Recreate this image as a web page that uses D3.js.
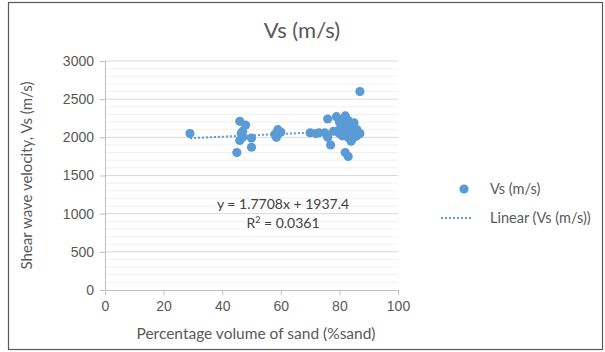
<!DOCTYPE html>
<html>
<head>
<meta charset="utf-8">
<script src="https://cdn.jsdelivr.net/npm/d3@7"></script>
<style>
  body { margin: 0; background: #fff; }
  svg { display: block; font-family: Lato, "Open Sans", sans-serif; }
</style>
</head>
<body>
<svg id="chart" width="605" height="352"></svg>
<script>
// sand percentage (x) and shear wave velocity (y)
const sand = [29, 45, 46, 46, 46.5, 47, 48, 47, 50, 50,
  58, 58.5, 59, 60, 59.5, 70, 72, 73, 75, 76, 76, 77, 78, 79,
  80, 80, 81, 82, 82, 82, 83, 83, 83, 84, 84, 85, 85, 86, 87, 87,
  81, 84, 82, 80, 83, 85, 86];
const vs = [2050, 1800, 2210, 1960, 2050, 2080, 2160, 2000, 1990, 1870,
  2040, 2000, 2100, 2070, 2060, 2060, 2050, 2060, 2060, 2240, 2000, 1900, 2080, 2270,
  2200, 2050, 2150, 2280, 2100, 1800, 1750, 2220, 2000, 2100, 1950, 2190, 2050, 2100, 2600, 2050,
  2020, 2000, 2180, 2100, 2150, 2000, 2020];
const xTicks = [0, 20, 40, 60, 80, 100];
const yTicks = [0, 500, 1000, 1500, 2000, 2500, 3000];
const slope = 1.7708, intercept = 1937.4;

const svg = d3.select('#chart');
const blue = '#5b9bd5';

// outer frame
svg.append('rect')
  .attr('x', 8.5).attr('y', 2.5).attr('width', 594).attr('height', 347)
  .attr('fill', '#fff').attr('stroke', '#595959').attr('stroke-width', 1.2);

const x = d3.scaleLinear().domain([0, 100]).range([105, 398]);
const y = d3.scaleLinear().domain([0, 3000]).range([290, 61]);

// minor grid every 100
svg.append('g')
  .selectAll('line')
  .data(d3.range(100, 3001, 100).filter(v => v % 500 !== 0))
  .join('line')
    .attr('x1', x(0)).attr('x2', x(100))
    .attr('y1', d => y(d)).attr('y2', d => y(d))
    .attr('stroke', '#f0f0f0').attr('stroke-width', 1);

// major grid
svg.append('g')
  .selectAll('line')
  .data(yTicks.slice(1))
  .join('line')
    .attr('x1', x(0)).attr('x2', x(100))
    .attr('y1', d => y(d)).attr('y2', d => y(d))
    .attr('stroke', '#d9d9d9').attr('stroke-width', 1);

const xAxis = g => g
  .attr('transform', `translate(0,${y(0)})`)
  .call(d3.axisBottom(x).tickValues(xTicks).tickFormat(d3.format('d')).tickSize(5).tickPadding(6))
  .call(g => g.selectAll('path, line').attr('stroke', '#bfbfbf'))
  .call(g => g.selectAll('text').attr('fill', '#595959').attr('font-size', 14));

const yAxis = g => g
  .attr('transform', `translate(${x(0)},0)`)
  .call(d3.axisLeft(y).tickValues(yTicks).tickFormat(d3.format('d')).tickSize(5).tickPadding(6))
  .call(g => g.selectAll('path, line').attr('stroke', '#bfbfbf'))
  .call(g => g.selectAll('text').attr('fill', '#595959').attr('font-size', 14));

svg.append('g').call(xAxis);
svg.append('g').call(yAxis);

// points
svg.append('g')
  .selectAll('circle')
  .data(sand.map((s, i) => [s, vs[i]]))
  .join('circle')
    .attr('cx', d => x(d[0]))
    .attr('cy', d => y(d[1]))
    .attr('r', 4.6)
    .attr('fill', blue);

// linear trendline
const xMin = d3.min(sand), xMax = d3.max(sand);
svg.append('line')
  .attr('x1', x(xMin)).attr('y1', y(slope * xMin + intercept))
  .attr('x2', x(xMax)).attr('y2', y(slope * xMax + intercept))
  .attr('stroke', blue).attr('stroke-width', 2).attr('stroke-dasharray', '2,2');

// equation
svg.append('text').attr('x', 283).attr('y', 209).attr('text-anchor', 'middle')
  .attr('font-size', 14).attr('fill', '#404040').text('y = 1.7708x + 1937.4');
svg.append('text').attr('x', 283).attr('y', 228).attr('text-anchor', 'middle')
  .attr('font-size', 14).attr('fill', '#404040')
  .html('R<tspan dy="-5" font-size="9">2</tspan><tspan dy="5"> = 0.0361</tspan>');

// title and axis labels
svg.append('text').attr('x', 302).attr('y', 38).attr('text-anchor', 'middle')
  .attr('font-size', 22).attr('fill', '#595959').text('Vs (m/s)');
svg.append('text').attr('x', 256).attr('y', 339).attr('text-anchor', 'middle')
  .attr('font-size', 15.5).attr('fill', '#595959').text('Percentage volume of sand (%sand)');
svg.append('text')
  .attr('transform', `translate(32,${(y(0) + y(3000)) / 2}) rotate(-90)`)
  .attr('text-anchor', 'middle')
  .attr('font-size', 15).attr('fill', '#595959').text('Shear  wave velocity, Vs (m/s)');

// legend
svg.append('circle').attr('cx', 464).attr('cy', 189).attr('r', 4.6).attr('fill', blue);
svg.append('text').attr('x', 490).attr('y', 194).attr('font-size', 14.5).attr('fill', '#595959').text('Vs (m/s)');
svg.append('line').attr('x1', 441).attr('x2', 472).attr('y1', 218).attr('y2', 218)
  .attr('stroke', blue).attr('stroke-width', 2).attr('stroke-dasharray', '2,2');
svg.append('text').attr('x', 490).attr('y', 223).attr('font-size', 14.5).attr('fill', '#595959').text('Linear (Vs (m/s))');
</script>
</body>
</html>
